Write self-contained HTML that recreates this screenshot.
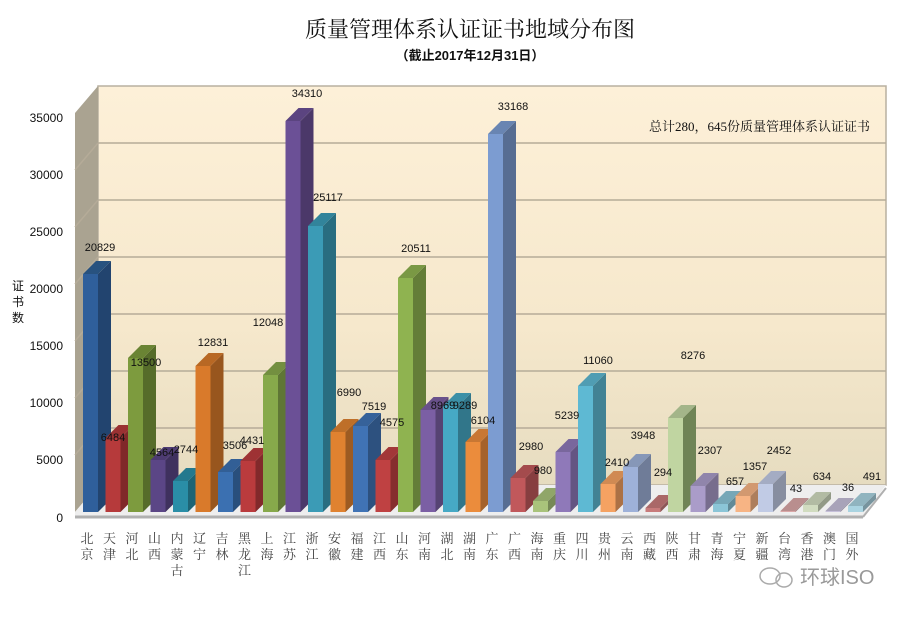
<!DOCTYPE html>
<html><head><meta charset="utf-8"><style>
html,body{margin:0;padding:0;background:#fff;}
svg{display:block;font-family:"Liberation Sans","Noto Sans CJK SC",sans-serif;}
</style></head><body>
<svg width="912" height="617" viewBox="0 0 912 617" xmlns="http://www.w3.org/2000/svg">
<defs>
<linearGradient id="wall" x1="0" y1="0" x2="0" y2="1">
<stop offset="0" stop-color="#fdf0d8"/><stop offset="0.6" stop-color="#f6e8cc"/><stop offset="1" stop-color="#e6dcc0"/>
</linearGradient>
</defs>
<rect width="912" height="617" fill="#fff"/>
<text x="470" y="37" font-size="22" text-anchor="middle" fill="#111" font-family="'Noto Serif CJK SC','Noto Sans CJK SC',serif">质量管理体系认证证书地域分布图</text>
<text x="470" y="60" font-size="13" font-weight="bold" text-anchor="middle" fill="#111">（截止2017年12月31日）</text>
<!-- walls -->
<rect x="98" y="86" width="788" height="399" fill="url(#wall)" stroke="#b8b0a0" stroke-width="1.5"/>
<polygon points="75,113 98,86 98,485 75,512" fill="#aaa391"/>
<polygon points="75,512 98,485 886,485 863,517 75,517" fill="#eeeeee"/>
<line x1="75" y1="517" x2="863" y2="517" stroke="#b0b0b0" stroke-width="3"/>
<line x1="863" y1="517" x2="886" y2="488" stroke="#b0b0b0" stroke-width="2"/>
<g stroke="#b5ab98" stroke-width="1.5">
<line x1="98" y1="143" x2="886" y2="143"/><line x1="75" y1="170" x2="98" y2="143"/>
<line x1="98" y1="200" x2="886" y2="200"/><line x1="75" y1="227" x2="98" y2="200"/>
<line x1="98" y1="257" x2="886" y2="257"/><line x1="75" y1="284" x2="98" y2="257"/>
<line x1="98" y1="314" x2="886" y2="314"/><line x1="75" y1="341" x2="98" y2="314"/>
<line x1="98" y1="371" x2="886" y2="371"/><line x1="75" y1="398" x2="98" y2="371"/>
<line x1="98" y1="428" x2="886" y2="428"/><line x1="75" y1="455" x2="98" y2="428"/>
</g>
<!-- y labels -->
<g font-size="12" text-anchor="end" fill="#111">
<text x="63" y="122">35000</text><text x="63" y="179">30000</text><text x="63" y="236">25000</text>
<text x="63" y="293">20000</text><text x="63" y="350">15000</text><text x="63" y="407">10000</text>
<text x="63" y="464">5000</text><text x="63" y="522">0</text>
</g>
<g font-size="12" text-anchor="middle" fill="#111"><text x="18" y="290">证</text><text x="18" y="306">书</text><text x="18" y="322">数</text></g>
<text x="870" y="131" font-size="13" text-anchor="end" fill="#111" font-family="'Liberation Serif','Noto Serif CJK SC',serif">总计280，645份质量管理体系认证证书</text>
<!-- bars -->
<g id="bars">
<g transform="translate(83,0)"><rect x="0" y="274" width="15" height="238" fill="#2f5f9b"/><polygon points="15,274 28,261 28,499 15,512" fill="#22446f"/><polygon points="0,274 13,261 28,261 15,274" fill="#28527f"/></g>
<g transform="translate(105.5,0)"><rect x="0" y="438" width="15" height="74" fill="#b63a3b"/><polygon points="15,438 28,425 28,499 15,512" fill="#802829"/><polygon points="0,438 13,425 28,425 15,438" fill="#9a3132"/></g>
<g transform="translate(128,0)"><rect x="0" y="358" width="15" height="154" fill="#7d9b3e"/><polygon points="15,358 28,345 28,499 15,512" fill="#566c2a"/><polygon points="0,358 13,345 28,345 15,358" fill="#6a8434"/></g>
<g transform="translate(150.5,0)"><rect x="0" y="460" width="15" height="52" fill="#5b4686"/><polygon points="15,460 28,447 28,499 15,512" fill="#3f315e"/><polygon points="0,460 13,447 28,447 15,460" fill="#4d3b72"/></g>
<g transform="translate(173,0)"><rect x="0" y="481" width="15" height="31" fill="#2a8ea7"/><polygon points="15,481 28,468 28,499 15,512" fill="#1d6475"/><polygon points="0,481 13,468 28,468 15,481" fill="#24798e"/></g>
<g transform="translate(195.5,0)"><rect x="0" y="366" width="15" height="146" fill="#d97a2b"/><polygon points="15,366 28,353 28,499 15,512" fill="#98561e"/><polygon points="0,366 13,353 28,353 15,366" fill="#b86824"/></g>
<g transform="translate(218,0)"><rect x="0" y="472" width="15" height="40" fill="#3b70b1"/><polygon points="15,472 28,459 28,499 15,512" fill="#294f7c"/><polygon points="0,472 13,459 28,459 15,472" fill="#325f96"/></g>
<g transform="translate(240.5,0)"><rect x="0" y="461" width="15" height="51" fill="#ba3b3d"/><polygon points="15,461 28,448 28,499 15,512" fill="#82292b"/><polygon points="0,461 13,448 28,448 15,461" fill="#9e3234"/></g>
<g transform="translate(263,0)"><rect x="0" y="375" width="15" height="137" fill="#87a94b"/><polygon points="15,375 28,362 28,499 15,512" fill="#5f7635"/><polygon points="0,375 13,362 28,362 15,375" fill="#738f40"/></g>
<g transform="translate(285.5,0)"><rect x="0" y="121" width="15" height="391" fill="#6b5096"/><polygon points="15,121 28,108 28,499 15,512" fill="#4b3869"/><polygon points="0,121 13,108 28,108 15,121" fill="#5b4480"/></g>
<g transform="translate(308,0)"><rect x="0" y="226" width="15" height="286" fill="#3b9bb6"/><polygon points="15,226 28,213 28,499 15,512" fill="#296d80"/><polygon points="0,226 13,213 28,213 15,226" fill="#32849b"/></g>
<g transform="translate(330.5,0)"><rect x="0" y="432" width="15" height="80" fill="#e08230"/><polygon points="15,432 28,419 28,499 15,512" fill="#9d5b22"/><polygon points="0,432 13,419 28,419 15,432" fill="#be6f29"/></g>
<g transform="translate(353,0)"><rect x="0" y="426" width="15" height="86" fill="#4073b5"/><polygon points="15,426 28,413 28,499 15,512" fill="#2d517f"/><polygon points="0,426 13,413 28,413 15,426" fill="#36629a"/></g>
<g transform="translate(375.5,0)"><rect x="0" y="460" width="15" height="52" fill="#bf4142"/><polygon points="15,460 28,447 28,499 15,512" fill="#862e2e"/><polygon points="0,460 13,447 28,447 15,460" fill="#a23738"/></g>
<g transform="translate(398,0)"><rect x="0" y="278" width="15" height="234" fill="#8fb350"/><polygon points="15,278 28,265 28,499 15,512" fill="#647d38"/><polygon points="0,278 13,265 28,265 15,278" fill="#7a9844"/></g>
<g transform="translate(420.5,0)"><rect x="0" y="410" width="15" height="102" fill="#7b5fa4"/><polygon points="15,410 28,397 28,499 15,512" fill="#564373"/><polygon points="0,410 13,397 28,397 15,410" fill="#69518b"/></g>
<g transform="translate(443,0)"><rect x="0" y="406" width="15" height="106" fill="#46a9c5"/><polygon points="15,406 28,393 28,499 15,512" fill="#31768a"/><polygon points="0,406 13,393 28,393 15,406" fill="#3c90a7"/></g>
<g transform="translate(465.5,0)"><rect x="0" y="442" width="15" height="70" fill="#eb8c3c"/><polygon points="15,442 28,429 28,499 15,512" fill="#a5622a"/><polygon points="0,442 13,429 28,429 15,442" fill="#c87733"/></g>
<g transform="translate(488,0)"><rect x="0" y="134" width="15" height="378" fill="#7c9cd1"/><polygon points="15,134 28,121 28,499 15,512" fill="#576d92"/><polygon points="0,134 13,121 28,121 15,134" fill="#6985b2"/></g>
<g transform="translate(510.5,0)"><rect x="0" y="478" width="15" height="34" fill="#c1585b"/><polygon points="15,478 28,465 28,499 15,512" fill="#873e40"/><polygon points="0,478 13,465 28,465 15,478" fill="#a44b4d"/></g>
<g transform="translate(533,0)"><rect x="0" y="501" width="15" height="11" fill="#a9c37b"/><polygon points="15,501 28,488 28,499 15,512" fill="#768956"/><polygon points="0,501 13,488 28,488 15,501" fill="#90a669"/></g>
<g transform="translate(555.5,0)"><rect x="0" y="452" width="15" height="60" fill="#8f79b9"/><polygon points="15,452 28,439 28,499 15,512" fill="#645582"/><polygon points="0,452 13,439 28,439 15,452" fill="#79679d"/></g>
<g transform="translate(578,0)"><rect x="0" y="386" width="15" height="126" fill="#5eb9d3"/><polygon points="15,386 28,373 28,499 15,512" fill="#428294"/><polygon points="0,386 13,373 28,373 15,386" fill="#509db3"/></g>
<g transform="translate(600.5,0)"><rect x="0" y="484" width="15" height="28" fill="#f5a262"/><polygon points="15,484 28,471 28,499 15,512" fill="#ac7145"/><polygon points="0,484 13,471 28,471 15,484" fill="#d08a53"/></g>
<g transform="translate(623,0)"><rect x="0" y="467" width="15" height="45" fill="#9eb1d9"/><polygon points="15,467 28,454 28,499 15,512" fill="#6f7c98"/><polygon points="0,467 13,454 28,454 15,467" fill="#8697b8"/></g>
<g transform="translate(645.5,0)"><rect x="0" y="508" width="15" height="4" fill="#c87b7b"/><polygon points="15,508 28,495 28,499 15,512" fill="#8c5656"/><polygon points="0,508 13,495 28,495 15,508" fill="#aa6868"/></g>
<g transform="translate(668,0)"><rect x="0" y="418" width="15" height="94" fill="#c0d5a1"/><polygon points="15,418 28,405 28,499 15,512" fill="#6f8456"/><polygon points="0,418 13,405 28,405 15,418" fill="#a3b589"/></g>
<g transform="translate(690.5,0)"><rect x="0" y="486" width="15" height="26" fill="#aa9cc9"/><polygon points="15,486 28,473 28,499 15,512" fill="#776d8d"/><polygon points="0,486 13,473 28,473 15,486" fill="#9085ab"/></g>
<g transform="translate(713,0)"><rect x="0" y="504" width="15" height="8" fill="#8bc5d7"/><polygon points="15,504 28,491 28,499 15,512" fill="#618a97"/><polygon points="0,504 13,491 28,491 15,504" fill="#76a7b7"/></g>
<g transform="translate(735.5,0)"><rect x="0" y="496" width="15" height="16" fill="#f7b484"/><polygon points="15,496 28,483 28,499 15,512" fill="#ad7e5c"/><polygon points="0,496 13,483 28,483 15,496" fill="#d29970"/></g>
<g transform="translate(758,0)"><rect x="0" y="484" width="15" height="28" fill="#c1cbe5"/><polygon points="15,484 28,471 28,499 15,512" fill="#878ea0"/><polygon points="0,484 13,471 28,471 15,484" fill="#a4acc3"/></g>
<g transform="translate(780.5,0)"><rect x="0" y="511" width="15" height="1" fill="#daa7a7"/><polygon points="15,511 28,498 28,499 15,512" fill="#997575"/><polygon points="0,511 13,498 28,498 15,511" fill="#b98e8e"/></g>
<g transform="translate(803,0)"><rect x="0" y="505" width="15" height="7" fill="#d1dcc0"/><polygon points="15,505 28,492 28,499 15,512" fill="#929a86"/><polygon points="0,505 13,492 28,492 15,505" fill="#b2bba3"/></g>
<g transform="translate(825.5,0)"><rect x="0" y="511" width="15" height="1" fill="#c6c0da"/><polygon points="15,511 28,498 28,499 15,512" fill="#8b8699"/><polygon points="0,511 13,498 28,498 15,511" fill="#a8a3b9"/></g>
<g transform="translate(848,0)"><rect x="0" y="506" width="15" height="6" fill="#aad4e1"/><polygon points="15,506 28,493 28,499 15,512" fill="#77949e"/><polygon points="0,506 13,493 28,493 15,506" fill="#90b4bf"/></g>
</g>
<!-- value labels -->
<g font-size="11" text-anchor="middle" fill="#111">
<text x="100" y="251">20829</text><text x="113" y="441">6484</text><text x="146" y="366">13500</text>
<text x="162" y="456">4564</text><text x="186" y="453">2744</text><text x="213" y="346">12831</text>
<text x="235" y="449">3506</text><text x="252" y="444">4431</text><text x="268" y="326">12048</text>
<text x="307" y="97">34310</text><text x="328" y="201">25117</text><text x="349" y="396">6990</text>
<text x="374" y="410">7519</text><text x="392" y="426">4575</text><text x="416" y="252">20511</text>
<text x="443" y="409">8969</text><text x="465" y="409">9289</text><text x="483" y="424">6104</text>
<text x="513" y="110">33168</text><text x="531" y="450">2980</text><text x="543" y="474">980</text>
<text x="567" y="419">5239</text><text x="598" y="364">11060</text><text x="617" y="466">2410</text>
<text x="643" y="439">3948</text><text x="663" y="476">294</text><text x="693" y="359">8276</text>
<text x="710" y="454">2307</text><text x="735" y="485">657</text><text x="755" y="470">1357</text>
<text x="779" y="454">2452</text><text x="796" y="492">43</text><text x="822" y="480">634</text>
<text x="848" y="491">36</text><text x="872" y="480">491</text>
</g>
<!-- x labels -->
<g font-size="13" text-anchor="middle" fill="#444" font-family="'Noto Serif CJK SC','Noto Sans CJK SC',serif">
<text x="87" y="543">北</text><text x="87" y="559">京</text>
<text x="109.5" y="543">天</text><text x="109.5" y="559">津</text>
<text x="132" y="543">河</text><text x="132" y="559">北</text>
<text x="154.5" y="543">山</text><text x="154.5" y="559">西</text>
<text x="177" y="543">内</text><text x="177" y="559">蒙</text><text x="177" y="575">古</text>
<text x="199.5" y="543">辽</text><text x="199.5" y="559">宁</text>
<text x="222" y="543">吉</text><text x="222" y="559">林</text>
<text x="244.5" y="543">黑</text><text x="244.5" y="559">龙</text><text x="244.5" y="575">江</text>
<text x="267" y="543">上</text><text x="267" y="559">海</text>
<text x="289.5" y="543">江</text><text x="289.5" y="559">苏</text>
<text x="312" y="543">浙</text><text x="312" y="559">江</text>
<text x="334.5" y="543">安</text><text x="334.5" y="559">徽</text>
<text x="357" y="543">福</text><text x="357" y="559">建</text>
<text x="379.5" y="543">江</text><text x="379.5" y="559">西</text>
<text x="402" y="543">山</text><text x="402" y="559">东</text>
<text x="424.5" y="543">河</text><text x="424.5" y="559">南</text>
<text x="447" y="543">湖</text><text x="447" y="559">北</text>
<text x="469.5" y="543">湖</text><text x="469.5" y="559">南</text>
<text x="492" y="543">广</text><text x="492" y="559">东</text>
<text x="514.5" y="543">广</text><text x="514.5" y="559">西</text>
<text x="537" y="543">海</text><text x="537" y="559">南</text>
<text x="559.5" y="543">重</text><text x="559.5" y="559">庆</text>
<text x="582" y="543">四</text><text x="582" y="559">川</text>
<text x="604.5" y="543">贵</text><text x="604.5" y="559">州</text>
<text x="627" y="543">云</text><text x="627" y="559">南</text>
<text x="649.5" y="543">西</text><text x="649.5" y="559">藏</text>
<text x="672" y="543">陕</text><text x="672" y="559">西</text>
<text x="694.5" y="543">甘</text><text x="694.5" y="559">肃</text>
<text x="717" y="543">青</text><text x="717" y="559">海</text>
<text x="739.5" y="543">宁</text><text x="739.5" y="559">夏</text>
<text x="762" y="543">新</text><text x="762" y="559">疆</text>
<text x="784.5" y="543">台</text><text x="784.5" y="559">湾</text>
<text x="807" y="543">香</text><text x="807" y="559">港</text>
<text x="829.5" y="543">澳</text><text x="829.5" y="559">门</text>
<text x="852" y="543">国</text><text x="852" y="559">外</text>
</g>
<!-- watermark -->
<g fill="none" stroke="#aaa" stroke-width="1.5">
<ellipse cx="770" cy="576" rx="10" ry="8"/><ellipse cx="784" cy="580" rx="8" ry="7"/>
</g>
<text x="800" y="584" font-size="20" fill="#999" font-family="'Liberation Sans','Noto Sans CJK SC',sans-serif">环球ISO</text>
</svg>
</body></html>
